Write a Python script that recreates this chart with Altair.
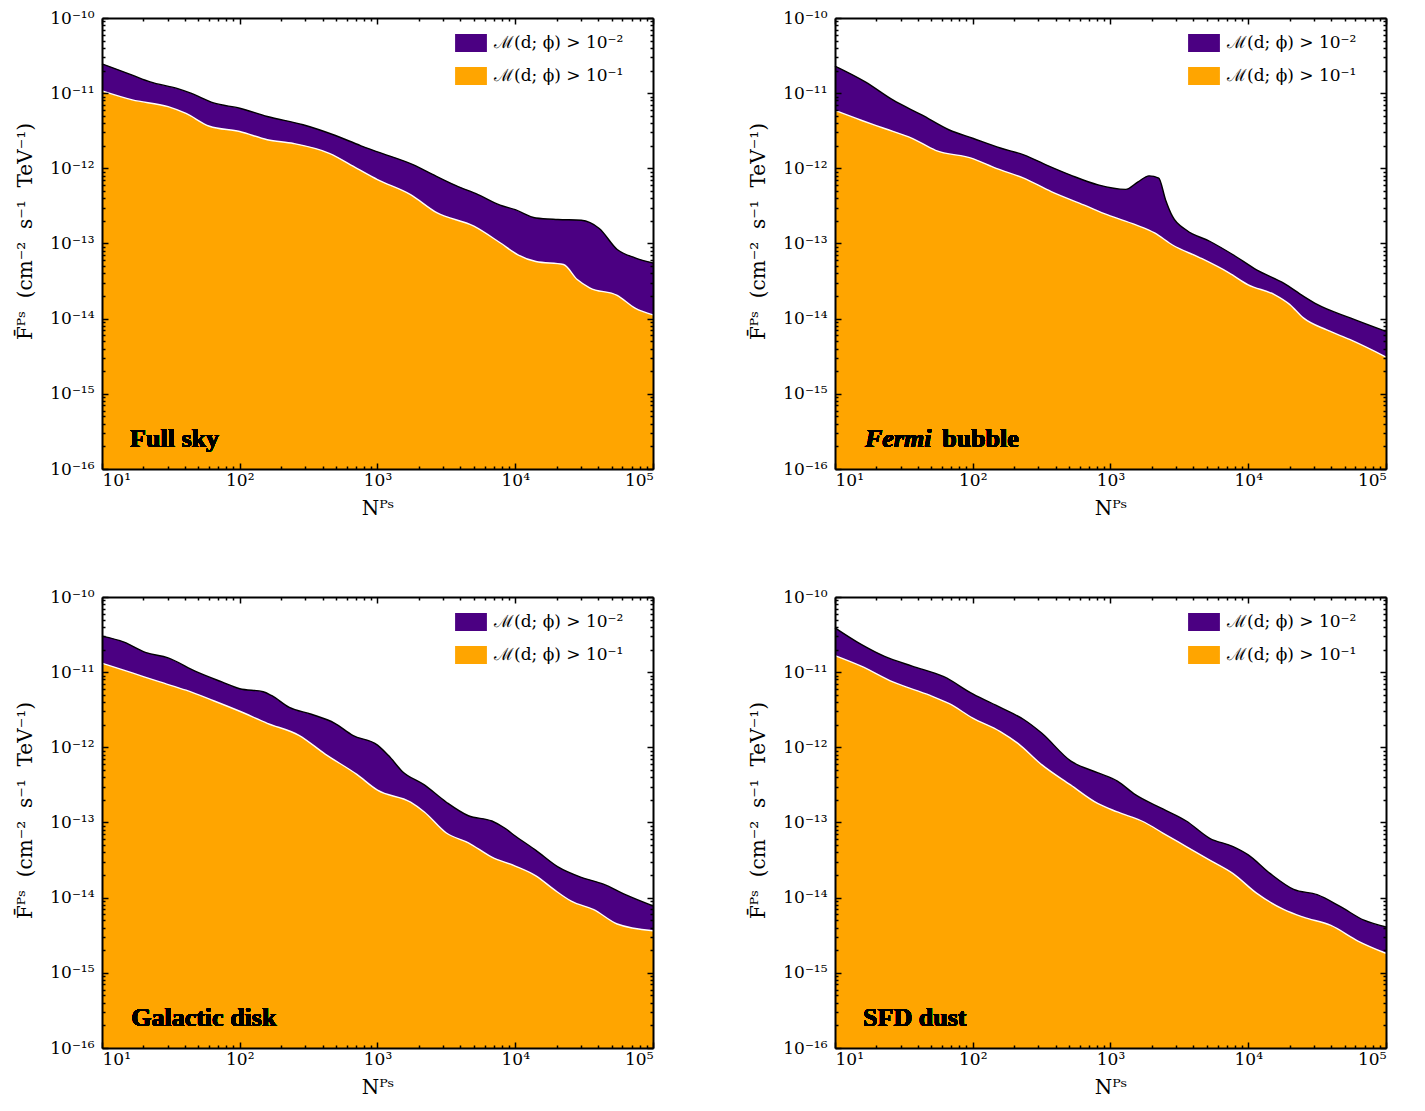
import altair as alt
import pandas as pd

FONT = "DejaVu Serif"
LFONT = "Liberation Serif"
PURPLE = "#4B0082"
ORANGE = "#FFA500"
SUP = str.maketrans("-0123456789", "⁻⁰¹²³⁴⁵⁶⁷⁸⁹")
L2 = "ℳ(d; ϕ) > 10⁻²"
L1 = "ℳ(d; ϕ) > 10⁻¹"
NB = "\u00a0"
YTITLE = f"F̄ᴾˢ{NB}{NB}(cm⁻²{NB}{NB}s⁻¹{NB}{NB}TeV⁻¹)"
XTITLE = "Nᴾˢ"

# ---- data (log10 N, log10 F) ----
fs_up_x = [1.0, 1.22, 1.35, 1.55, 1.645, 1.81, 2.0, 2.2, 2.46, 2.69, 2.88, 3.0, 3.27, 3.4, 3.57, 3.73, 3.89, 4.0, 4.15, 4.31, 4.48, 4.61, 4.74, 4.87, 5.0]
fs_up_y = [-10.61, -10.76, -10.85, -10.94, -11.0, -11.13, -11.20, -11.31, -11.42, -11.56, -11.70, -11.78, -11.96, -12.08, -12.23, -12.35, -12.49, -12.55, -12.66, -12.68, -12.69, -12.80, -13.08, -13.19, -13.26]
fs_lo_x = [1.0, 1.22, 1.48, 1.61, 1.78, 2.0, 2.2, 2.39, 2.65, 2.85, 3.0, 3.24, 3.43, 3.7, 3.89, 4.02, 4.15, 4.35, 4.45, 4.54, 4.74, 4.87, 5.0]
fs_lo_y = [-10.97, -11.09, -11.18, -11.27, -11.44, -11.51, -11.62, -11.67, -11.80, -12.0, -12.15, -12.35, -12.59, -12.77, -12.99, -13.15, -13.24, -13.28, -13.48, -13.59, -13.69, -13.86, -13.95]

fb_up_x = [1.0, 1.22, 1.42, 1.63, 1.83, 2.0, 2.2, 2.37, 2.54, 2.71, 2.91, 3.11, 3.2, 3.28, 3.35, 3.4, 3.45, 3.55, 3.72, 3.89, 4.06, 4.26, 4.4, 4.5, 4.74, 5.0]
fb_up_y = [-10.64, -10.85, -11.09, -11.29, -11.49, -11.60, -11.73, -11.82, -11.96, -12.09, -12.22, -12.28, -12.18, -12.10, -12.13, -12.42, -12.64, -12.82, -12.97, -13.15, -13.35, -13.53, -13.70, -13.81, -13.99, -14.17]
fb_lo_x = [1.0, 1.19, 1.36, 1.56, 1.73, 2.0, 2.17, 2.37, 2.57, 2.81, 2.98, 3.18, 3.32, 3.45, 3.65, 3.86, 4.0, 4.19, 4.3, 4.4, 4.57, 4.74, 5.0]
fb_lo_y = [-11.23, -11.36, -11.47, -11.60, -11.76, -11.87, -12.0, -12.13, -12.31, -12.49, -12.62, -12.75, -12.86, -13.02, -13.19, -13.39, -13.55, -13.68, -13.81, -13.99, -14.15, -14.28, -14.51]

gd_up_x = [1.0, 1.16, 1.32, 1.48, 1.68, 1.87, 2.0, 2.17, 2.23, 2.36, 2.52, 2.69, 2.82, 3.0, 3.08, 3.18, 3.34, 3.5, 3.66, 3.83, 3.92, 4.0, 4.15, 4.31, 4.48, 4.64, 4.8, 5.0]
gd_up_y = [-10.52, -10.60, -10.74, -10.81, -10.99, -11.13, -11.22, -11.26, -11.31, -11.47, -11.56, -11.68, -11.84, -11.97, -12.11, -12.32, -12.50, -12.73, -12.91, -12.98, -13.07, -13.18, -13.37, -13.59, -13.73, -13.82, -13.96, -14.11]
gd_lo_x = [1.0, 1.22, 1.42, 1.61, 1.81, 2.0, 2.2, 2.43, 2.62, 2.85, 3.0, 3.24, 3.34, 3.5, 3.66, 3.83, 4.0, 4.15, 4.28, 4.41, 4.57, 4.74, 5.0]
gd_lo_y = [-10.88, -11.01, -11.13, -11.24, -11.38, -11.52, -11.68, -11.84, -12.09, -12.36, -12.57, -12.73, -12.86, -13.14, -13.27, -13.46, -13.58, -13.71, -13.89, -14.05, -14.16, -14.35, -14.44]

sd_up_x = [1.0, 1.19, 1.36, 1.56, 1.79, 2.0, 2.2, 2.37, 2.5, 2.71, 2.91, 3.05, 3.18, 3.38, 3.55, 3.72, 3.89, 4.0, 4.16, 4.33, 4.5, 4.67, 4.84, 5.0]
sd_up_y = [-10.41, -10.63, -10.79, -10.92, -11.06, -11.29, -11.47, -11.63, -11.81, -12.18, -12.34, -12.45, -12.63, -12.82, -12.98, -13.21, -13.32, -13.43, -13.68, -13.89, -13.96, -14.12, -14.30, -14.39]
sd_lo_x = [1.0, 1.19, 1.42, 1.69, 1.83, 2.0, 2.2, 2.33, 2.5, 2.71, 2.91, 3.05, 3.25, 3.38, 3.55, 3.72, 3.89, 4.06, 4.26, 4.4, 4.6, 4.8, 5.0]
sd_lo_y = [-10.78, -10.92, -11.13, -11.31, -11.42, -11.61, -11.79, -11.95, -12.23, -12.50, -12.75, -12.86, -13.0, -13.14, -13.32, -13.50, -13.68, -13.94, -14.16, -14.26, -14.37, -14.58, -14.74]

XMAJ = [10.0 ** e for e in range(1, 6)]
XMIN = [k * 10.0 ** e for e in range(1, 5) for k in range(2, 10)]
YMAJ = [10.0 ** e for e in range(-16, -9)]
YMIN = [k * 10.0 ** e for e in range(-16, -10) for k in range(2, 10)]


def sup_expr(exps):
    expr = "''"
    for e in exps:
        expr = f"round(log(datum.value)/LN10) == {e} ? '10{str(e).translate(SUP)}' : ({expr})"
    return expr


XLAB = sup_expr(range(1, 6))
YLAB = sup_expr(range(-16, -9))

xs = alt.Scale(type="log", domain=[10, 1e5], nice=False)
ys = alt.Scale(type="log", domain=[1e-16, 1e-10], nice=False)
cs = alt.Scale(domain=[L2, L1], range=[PURPLE, ORANGE])

leg = alt.Legend(
    title=None, orient="none", legendX=358, legendY=14, padding=0,
    symbolType="M-1.5,-0.85L1.5,-0.85L1.5,0.85L-1.5,0.85Z", symbolSize=450,
    symbolStrokeWidth=0, symbolOpacity=1, labelFont=FONT, labelFontSize=17,
    labelLimit=300, rowPadding=12, labelOffset=12,
)

common_axis = dict(grid=False, tickColor="black", tickWidth=1.5, zindex=1,
                   labelFont=FONT, labelFontSize=17, labelColor="black",
                   titleFont=FONT, titleFontSize=20, titleFontWeight="normal",
                   titleColor="black")


def frame(df, orient_x, orient_y, major, labels):
    ax = dict(common_axis)
    if major:
        xa = alt.Axis(orient=orient_x, values=XMAJ, tickSize={"expr": "-6"},
                      domain=True, domainColor="black", domainWidth=2,
                      labels=labels, labelExpr=XLAB, labelPadding=9,
                      title=XTITLE if labels else None, titlePadding=10, **ax)
        ya = alt.Axis(orient=orient_y, values=YMAJ, tickSize={"expr": "-6"},
                      domain=True, domainColor="black", domainWidth=2,
                      labels=labels, labelExpr=YLAB, labelPadding=14,
                      title=YTITLE if labels else None, titleY=213,
                      titlePadding=14, **ax)
    else:
        xa = alt.Axis(orient=orient_x, values=XMIN, tickSize={"expr": "-3"}, domain=False,
                      labels=False, title=None, **ax)
        ya = alt.Axis(orient=orient_y, values=YMIN, tickSize={"expr": "-3"}, domain=False,
                      labels=False, title=None, **ax)
    return alt.Chart(df).mark_line(opacity=0).encode(
        x=alt.X("N:Q", scale=xs, axis=xa),
        y=alt.Y("F:Q", scale=ys, axis=ya),
    )


def panel(upx, upy, lox, loy, texts):
    up = pd.DataFrame({"N": [10.0 ** v for v in upx], "F": [10.0 ** v for v in upy], "s": L2})
    lo = pd.DataFrame({"N": [10.0 ** v for v in lox], "F": [10.0 ** v for v in loy], "s": L1})

    def area(df):
        return alt.Chart(df).mark_area(interpolate="monotone", opacity=1).encode(
            x=alt.X("N:Q", scale=xs, axis=None),
            y=alt.Y("F:Q", scale=ys, axis=None),
            y2=alt.datum(1e-16),
            color=alt.Color("s:N", scale=cs, legend=leg),
        )

    def line(df, color):
        return alt.Chart(df).mark_line(interpolate="monotone", color=color, strokeWidth=1.4).encode(
            x=alt.X("N:Q", scale=xs, axis=None),
            y=alt.Y("F:Q", scale=ys, axis=None),
        )

    layers = [area(up), area(lo), line(up, "black"), line(lo, "white")]
    for (txt, xpos, style) in texts:
        layers.append(
            alt.Chart(up).mark_text(
                text=txt, align="left", baseline="middle", font=LFONT, fontSize=26,
                fontWeight="bold", fontStyle=style, color="black",
            ).encode(
                x=alt.X(datum=xpos, scale=xs, axis=None),
                y=alt.Y(datum=2.5e-16, scale=ys, axis=None),
            )
        )
    layers += [
        frame(up, "bottom", "left", True, True),
        frame(up, "top", "right", True, False),
        frame(up, "bottom", "left", False, False),
        frame(up, "top", "right", False, False),
    ]
    return alt.layer(*layers).resolve_axis(x="independent", y="independent").properties(
        width=551, height=451
    )


p1 = panel(fs_up_x, fs_up_y, fs_lo_x, fs_lo_y, [("Full sky", 16.0, "normal")])
p2 = panel(fb_up_x, fb_up_y, fb_lo_x, fb_lo_y, [("Fermi", 16.5, "italic"), ("bubble", 60.0, "normal")])
p3 = panel(gd_up_x, gd_up_y, gd_lo_x, gd_lo_y, [("Galactic disk", 16.3, "normal")])
p4 = panel(sd_up_x, sd_up_y, sd_lo_x, sd_lo_y, [("SFD dust", 16.0, "normal")])

row1 = alt.hconcat(p1, p2, spacing=91).resolve_scale(color="independent").resolve_legend(color="independent")
row2 = alt.hconcat(p3, p4, spacing=91).resolve_scale(color="independent").resolve_legend(color="independent")
chart = alt.vconcat(row1, row2, spacing=68).resolve_scale(color="independent").resolve_legend(
    color="independent"
).properties(padding={"left": 7, "top": 0, "right": 5, "bottom": 5}).configure_view(
    strokeWidth=0
).configure(background="white")

chart.save("out.html", embed_options={"renderer": "svg", "actions": False})
